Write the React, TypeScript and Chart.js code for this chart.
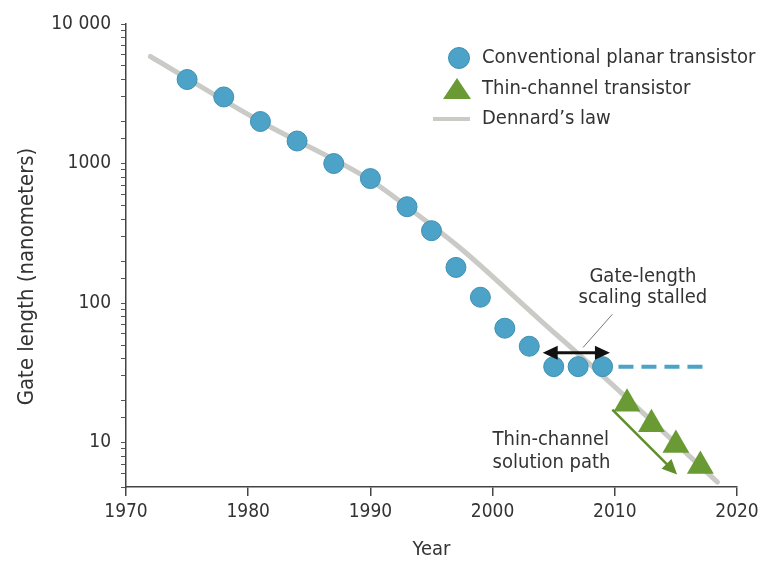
import React, { useEffect, useRef } from 'react';
import { Chart, registerables } from 'chart.js';

Chart.register(...registerables);

// ---- data ----
const planarYears = [1975, 1978, 1981, 1984, 1987, 1990, 1993, 1995, 1997, 1999, 2001, 2003, 2005, 2007, 2009];
const planarNm = [4000, 3000, 2000, 1450, 1000, 780, 490, 330, 180, 110, 66, 49, 35, 35, 35];

const thinYears = [2011, 2013, 2015, 2017];
const thinNm = [19, 13.5, 9.6, 6.8];

const dennardYears = [1972, 1981, 1990, 1993, 1997.3, 2004, 2008.5, 2018.4];
const dennardNm = [5850, 2000, 760, 490, 250, 74, 33, 5.2];

const stalledYears = [2010.3, 2017.4];
const stalledNm = [35, 35];

const xMin = 1970;
const xMax = 2020;
const xStep = 10;
const yMin = 4.8;
const yMax = 10000;
const yMajorTicks = [10, 100, 1000, 10000];
const yMajorLabels = ['10', '100', '1000', '10 000'];

const legendLabels = ['Conventional planar transistor', 'Thin-channel transistor', 'Dennard’s law'];
const xTitle = 'Year';
const yTitle = 'Gate length (nanometers)';

// annotations (data coordinates)
const stalledArrowYears = [2004.1, 2009.6];
const stalledArrowNm = 44;
const stalledNote = ['Gate-length', 'scaling stalled'];
const stalledNoteYear = 2012.3;
const stalledNoteNm = [155, 109];
const leaderYears = [2009.8, 2007.4];
const leaderNm = [83, 48];
const thinArrowYears = [2009.8, 2015.1];
const thinArrowNm = [17.2, 5.9];
const thinNote = ['Thin-channel', 'solution path'];
const thinNoteYear = 2000;
const thinNoteNm = [10.5, 7.2];

// ---- styles ----
const FONT = "'DejaVu Sans Condensed', 'Liberation Sans Narrow', 'DejaVu Sans', sans-serif";
const TEXT = '#333333';
const BLUE = '#4ca3c7';
const BLUE_BORDER = '#3b90b3';
const GREEN = '#6a9a34';
const GREEN_ARROW = '#5e8f2b';
const GRAY_LINE = '#cacac6';

function arrowHead(ctx: CanvasRenderingContext2D, x1: number, y1: number, x2: number, y2: number, len: number, half: number) {
  const a = Math.atan2(y2 - y1, x2 - x1);
  ctx.beginPath();
  ctx.moveTo(x2, y2);
  ctx.lineTo(x2 - len * Math.cos(a) + half * Math.sin(a), y2 - len * Math.sin(a) - half * Math.cos(a));
  ctx.lineTo(x2 - len * Math.cos(a) - half * Math.sin(a), y2 - len * Math.sin(a) + half * Math.cos(a));
  ctx.closePath();
  ctx.fill();
}

const annotationPlugin = {
  id: 'annotations',
  afterDatasetsDraw(chart: any) {
    const ctx = chart.ctx as CanvasRenderingContext2D;
    const xs = chart.scales.x;
    const ys = chart.scales.y;
    ctx.save();

    // stalled double arrow
    const ay = ys.getPixelForValue(stalledArrowNm);
    const ax1 = xs.getPixelForValue(stalledArrowYears[0]);
    const ax2 = xs.getPixelForValue(stalledArrowYears[1]);
    ctx.strokeStyle = '#111';
    ctx.fillStyle = '#111';
    ctx.lineWidth = 3;
    ctx.beginPath();
    ctx.moveTo(ax1 + 10, ay);
    ctx.lineTo(ax2 - 10, ay);
    ctx.stroke();
    arrowHead(ctx, ax2 - 20, ay, ax2, ay, 15, 7);
    arrowHead(ctx, ax1 + 20, ay, ax1, ay, 15, 7);

    // leader line
    ctx.strokeStyle = '#777';
    ctx.lineWidth = 1;
    ctx.beginPath();
    ctx.moveTo(xs.getPixelForValue(leaderYears[0]), ys.getPixelForValue(leaderNm[0]));
    ctx.lineTo(xs.getPixelForValue(leaderYears[1]), ys.getPixelForValue(leaderNm[1]));
    ctx.stroke();

    // thin-channel arrow
    const tx1 = xs.getPixelForValue(thinArrowYears[0]);
    const ty1 = ys.getPixelForValue(thinArrowNm[0]);
    const tx2 = xs.getPixelForValue(thinArrowYears[1]);
    const ty2 = ys.getPixelForValue(thinArrowNm[1]);
    ctx.strokeStyle = GREEN_ARROW;
    ctx.fillStyle = GREEN_ARROW;
    ctx.lineWidth = 2.5;
    const ang = Math.atan2(ty2 - ty1, tx2 - tx1);
    ctx.beginPath();
    ctx.moveTo(tx1, ty1);
    ctx.lineTo(tx2 - 10 * Math.cos(ang), ty2 - 10 * Math.sin(ang));
    ctx.stroke();
    arrowHead(ctx, tx1, ty1, tx2, ty2, 15, 7);

    // notes
    ctx.fillStyle = TEXT;
    ctx.font = `20px ${FONT}`;
    ctx.textBaseline = 'middle';
    ctx.textAlign = 'center';
    stalledNote.forEach((t, i) => {
      ctx.fillText(t, xs.getPixelForValue(stalledNoteYear), ys.getPixelForValue(stalledNoteNm[i]));
    });
    ctx.textAlign = 'left';
    thinNote.forEach((t, i) => {
      ctx.fillText(t, xs.getPixelForValue(thinNoteYear), ys.getPixelForValue(thinNoteNm[i]));
    });
    ctx.restore();
  },
  afterDraw(chart: any) {
    const ctx = chart.ctx as CanvasRenderingContext2D;
    const ca = chart.chartArea;
    const markX = ca.left + 331;
    const textX = ca.left + 356;
    const rowY = [ca.top + 34, ca.top + 65, ca.top + 95];
    ctx.save();
    // circle
    ctx.fillStyle = BLUE;
    ctx.strokeStyle = BLUE_BORDER;
    ctx.lineWidth = 1;
    ctx.beginPath();
    ctx.arc(markX + 2, rowY[0], 10.5, 0, Math.PI * 2);
    ctx.fill();
    ctx.stroke();
    // triangle
    ctx.fillStyle = GREEN;
    ctx.beginPath();
    ctx.moveTo(markX, rowY[1] - 11);
    ctx.lineTo(markX + 14, rowY[1] + 10);
    ctx.lineTo(markX - 14, rowY[1] + 10);
    ctx.closePath();
    ctx.fill();
    // line
    ctx.strokeStyle = GRAY_LINE;
    ctx.lineWidth = 4;
    ctx.beginPath();
    ctx.moveTo(markX - 24, rowY[2]);
    ctx.lineTo(markX + 13, rowY[2]);
    ctx.stroke();
    // labels
    ctx.fillStyle = TEXT;
    ctx.font = `20px ${FONT}`;
    ctx.textAlign = 'left';
    ctx.textBaseline = 'middle';
    legendLabels.forEach((t, i) => ctx.fillText(t, textX, rowY[i]));

    // y axis title
    ctx.save();
    ctx.translate(27, (ca.top + ca.bottom) / 2 + 21);
    ctx.rotate(-Math.PI / 2);
    ctx.font = `22px ${FONT}`;
    ctx.textAlign = 'center';
    ctx.textBaseline = 'middle';
    ctx.fillText(yTitle, 0, 0);
    ctx.restore();
    ctx.restore();
  },
};

export default function App() {
  const ref = useRef<HTMLCanvasElement | null>(null);

  useEffect(() => {
    document.body.style.margin = '0';
    const canvas = ref.current;
    if (!canvas) return;
    const pts = (xs: number[], ys: number[]) => xs.map((x, i) => ({ x, y: ys[i] }));

    const chart = new Chart(canvas, {
      type: 'scatter',
      data: {
        datasets: [
          {
            label: legendLabels[0],
            data: pts(planarYears, planarNm),
            pointStyle: 'circle',
            pointRadius: 10,
            backgroundColor: BLUE,
            borderColor: BLUE_BORDER,
            borderWidth: 1,
            order: 0,
          },
          {
            label: legendLabels[1],
            data: pts(thinYears, thinNm),
            pointStyle: 'triangle',
            pointRadius: 15.5,
            backgroundColor: GREEN,
            borderColor: GREEN,
            borderWidth: 0,
            order: 1,
          },
          {
            type: 'line',
            label: 'stalled',
            data: pts(stalledYears, stalledNm),
            borderColor: BLUE,
            borderWidth: 4,
            borderDash: [15, 8],
            pointRadius: 0,
            showLine: true,
            order: 2,
          } as any,
          {
            type: 'line',
            label: legendLabels[2],
            data: pts(dennardYears, dennardNm),
            borderColor: GRAY_LINE,
            borderWidth: 5,
            pointRadius: 0,
            showLine: true,
            cubicInterpolationMode: 'monotone',
            borderCapStyle: 'round',
            order: 3,
          } as any,
        ],
      },
      options: {
        responsive: false,
        animation: false,
        devicePixelRatio: 1,
        layout: { padding: { top: 24, right: 30, left: 0, bottom: 0 } },
        plugins: { legend: { display: false }, tooltip: { enabled: false } },
        font: { family: FONT },
        scales: {
          x: {
            type: 'linear',
            min: xMin,
            max: xMax,
            afterFit: (s: any) => { s.height = 75; },
            ticks: {
              stepSize: xStep,
              color: TEXT,
              font: { family: FONT, size: 19 },
              padding: 5,
              callback: (v: any) => String(v),
            },
            grid: { drawOnChartArea: false, drawTicks: true, tickLength: 9, color: '#444', lineWidth: 1.5 },
            border: { display: true, color: '#444', width: 1.5 },
            title: { display: true, text: xTitle, color: TEXT, font: { family: FONT, size: 20 }, padding: { top: 0, bottom: 0 } },
          },
          y: {
            type: 'logarithmic',
            min: yMin,
            max: yMax,
            afterFit: (s: any) => { s.width = 126; },
            ticks: {
              autoSkip: false,
              color: TEXT,
              font: { family: FONT, size: 19 },
              padding: 10,
              callback: (v: any) => {
                const i = yMajorTicks.indexOf(Number(v));
                return i >= 0 ? yMajorLabels[i] : '';
              },
            },
            grid: { drawOnChartArea: false, drawTicks: true, tickLength: 5, color: '#555', lineWidth: 1 },
            border: { display: true, color: '#444', width: 1.5 },
            title: { display: false, text: yTitle },
          },
        },
      } as any,
      plugins: [annotationPlugin],
    });
    return () => chart.destroy();
  }, []);

  return (
    <div style={{ width: 767, height: 562 }}>
      <canvas ref={ref} width={767} height={562} style={{ display: 'block' }} />
    </div>
  );
}
